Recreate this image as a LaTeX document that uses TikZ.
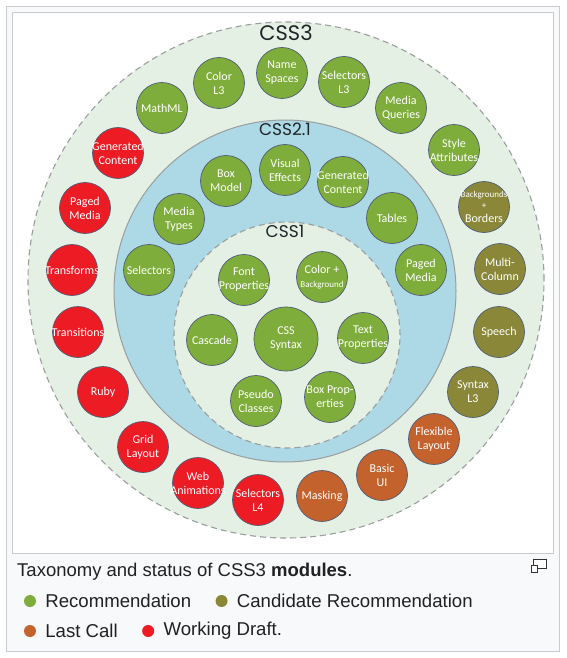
\documentclass[tikz,border=0pt]{standalone}
\usepackage{fontspec}
\setmainfont{Liberation Sans}
\newfontfamily\modfont{Carlito}
\newfontfamily\ringfont{Poppins}
\usetikzlibrary{positioning}
\definecolor{RecGreen}   {HTML}{7EAD3B}
\definecolor{CandOlive}  {HTML}{8A8838}
\definecolor{LastOrange} {HTML}{C4622E}
\definecolor{DraftRed}   {HTML}{ED1C24}
\definecolor{EdgeSlate}  {HTML}{4E5C78}
\definecolor{RingGreen}  {HTML}{E5F0E5}
\definecolor{RingBlue}   {HTML}{ADD8E5}
\definecolor{RingLine}   {HTML}{9A9E9E}
\definecolor{TitleInk}   {HTML}{1E2428}
\definecolor{FrameGray}  {HTML}{C8CCD1}
\definecolor{CapBack}    {HTML}{F8F9FA}
\definecolor{CapInk}     {HTML}{202122}
\tikzset{
  ring/.style={circle,fill=#1,inner sep=0pt},
  ringlbl/.style={inner sep=0pt,text=TitleInk,
                  font=\ringfont\fontsize{17}{17}\selectfont},
  mod/.style={circle,draw=EdgeSlate,line width=0.7pt,fill=#1,
              minimum size=51pt,inner sep=-12pt,align=center,text=white,
              font=\modfont\fontsize{12}{14}\selectfont},
  dot/.style={circle,fill=#1,minimum size=12pt,inner sep=0pt},
  legtxt/.style={inner sep=0pt,text=CapInk,font=\fontsize{18.6}{21}\selectfont},
}

\begin{document}
\begin{tikzpicture}[x=1pt,y=-1pt]

  \useasboundingbox (0,0) rectangle (566,658);

  % thumbnail frame and image area
  \draw[FrameGray,fill=CapBack] (6,6) rectangle (559.5,651.5);
  \draw[FrameGray,fill=white]   (12,12) rectangle (553,553);

  % the three rings
  \node[ring=RingGreen,minimum size=516pt,draw=RingLine,line width=1.1pt,
        dash pattern=on 6pt off 4pt] (css3) at (286,280) {};
  \node[ring=RingBlue,minimum size=342pt,draw=RingLine,line width=1pt]
    (css21) at (285,291) {};
  \node[ring=RingGreen,minimum size=226pt,draw=RingLine,line width=1.1pt,
        dash pattern=on 6pt off 4pt] (css1) at (287,335) {};

  \node[ringlbl,font=\ringfont\fontsize{21}{21}\selectfont]
    (css3lbl) at (286,33) {CSS3};
  \node[ringlbl] (css21lbl) at (285,129) {CSS2.1};
  \node[ringlbl] (css1lbl)  at (285,231) {CSS1};

  % CSS3 modules
  \node[mod=RecGreen]   (namesp)   at (282,73)  {Name\\Spaces};
  \node[mod=RecGreen]   (colorl3)  at (219,83)  {Color\\L3};
  \node[mod=RecGreen]   (sell3)    at (344,82)  {Selectors\\L3};
  \node[mod=RecGreen]   (mathml)   at (162,108) {MathML};
  \node[mod=RecGreen]   (mediaq)   at (401,108) {Media\\Queries};
  \node[mod=DraftRed]   (gencont3) at (118,153) {Generated\\Content};
  \node[mod=RecGreen]   (styleatt) at (454,150) {Style\\Attributes};
  \node[mod=DraftRed]   (paged3)   at (85,208)  {Paged\\Media};
  \node[mod=CandOlive]  (bgborder) at (484,207)
    {{\fontsize{9}{9}\selectfont Backgrounds}\\[-3pt]
     {\fontsize{9}{9}\selectfont +}\\Borders};
  \node[mod=DraftRed]   (transf)   at (72,270)  {Transforms};
  \node[mod=CandOlive]  (multicol) at (500,269) {Multi-\\Column};
  \node[mod=DraftRed]   (transit)  at (78,332)  {Transitions};
  \node[mod=CandOlive]  (speech)   at (499,332) {Speech};
  \node[mod=DraftRed]   (ruby)     at (103,392) {Ruby};
  \node[mod=CandOlive]  (syntaxl3) at (473,392) {Syntax\\L3};
  \node[mod=DraftRed]   (grid)     at (143,447) {Grid\\Layout};
  \node[mod=LastOrange] (flexbox)  at (434,439) {Flexible\\Layout};
  \node[mod=DraftRed]   (webanim)  at (198,483) {Web\\Animations};
  \node[mod=LastOrange] (basicui)  at (382,475) {Basic\\UI};
  \node[mod=DraftRed]   (sell4)    at (258,500) {Selectors\\L4};
  \node[mod=LastOrange] (masking)  at (322,496) {Masking};

  % CSS2.1 modules
  \node[mod=RecGreen] (boxmodel) at (226,181) {Box\\Model};
  \node[mod=RecGreen] (viseff)   at (285,170) {Visual\\Effects};
  \node[mod=RecGreen] (gencont2) at (343,182) {Generated\\Content};
  \node[mod=RecGreen] (mediaty)  at (179,219) {Media\\Types};
  \node[mod=RecGreen] (tables)   at (392,218) {Tables};
  \node[mod=RecGreen] (sel2)     at (149,270) {Selectors};
  \node[mod=RecGreen] (paged2)   at (421,270) {Paged\\Media};

  % CSS1 modules
  \node[mod=RecGreen] (fontprop) at (244,280) {Font\\Properties};
  \node[mod=RecGreen] (colorbg)  at (322,277)
    {Color +\\{\fontsize{9}{9}\selectfont Background}};
  \node[mod=RecGreen] (cascade)  at (212,340) {Cascade};
  \node[mod=RecGreen,minimum size=64pt] (syntax) at (286,339) {CSS\\Syntax};
  \node[mod=RecGreen] (textprop) at (363,338) {Text\\Properties};
  \node[mod=RecGreen] (pseudo)   at (256,401) {Pseudo\\Classes};
  \node[mod=RecGreen] (boxprop)  at (330,397) {Box Prop-\\erties};

  % caption and legend
  \node[legtxt,anchor=west,font=\fontsize{18.5}{21}\selectfont]
    (caption) at (17,572) {Taxonomy and status of CSS3 \textbf{modules}.};
  \draw[black!80,line width=0.9pt,fill=white] (533,559.5) rectangle (546,568.5);
  \draw[black!80,line width=0.9pt,fill=white] (531,565) rectangle (537.5,572);

  \node[dot=RecGreen]   (dotrec)  at (30,601) {};
  \node[legtxt,right=9pt of dotrec]  (txtrec)  {Recommendation};
  \node[dot=CandOlive,right=24pt of txtrec]   (dotcand) {};
  \node[legtxt,right=9pt of dotcand] (txtcand) {Candidate Recommendation};
  \node[dot=LastOrange] (dotlast) at (30,631) {};
  \node[legtxt,right=9pt of dotlast] (txtlast) {Last Call};
  \node[dot=DraftRed,right=24pt of txtlast]   (dotwd)   {};
  \node[legtxt,right=9pt of dotwd]   (txtwd)   {Working Draft.};

\end{tikzpicture}
\end{document}
